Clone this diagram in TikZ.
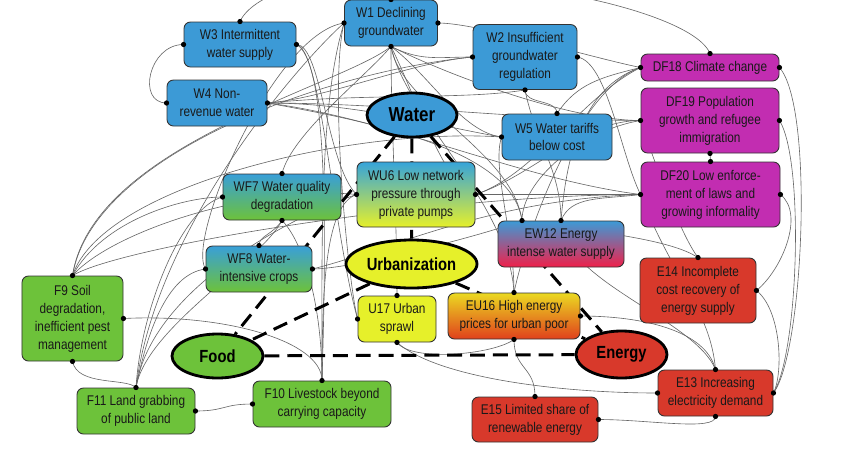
\documentclass[tikz,border=0pt]{standalone}
\usepackage{fontspec}
\setmainfont{Liberation Sans}[FakeStretch=0.84]
\usetikzlibrary{shapes.geometric,backgrounds}
\definecolor{waterblue}{HTML}{3C9AD6}
\definecolor{drivermag}{HTML}{C22DB1}
\definecolor{energyred}{HTML}{D8392B}
\definecolor{foodgreen}{HTML}{6DC23A}
\definecolor{urbanyellow}{HTML}{E6F02A}
\definecolor{hotpink}{HTML}{F0204A}
\definecolor{hotorange}{HTML}{E0401C}
\tikzstyle{box} = [rectangle, rounded corners=1.3mm, draw=black!80, line width=0.5pt, align=center, inner sep=1pt, text=black!90, font=\fontsize{8}{10.2}\selectfont]
\tikzstyle{water-box} = [box, fill=waterblue]
\tikzstyle{driver-box} = [box, fill=drivermag]
\tikzstyle{energy-box} = [box, fill=energyred]
\tikzstyle{food-box} = [box, fill=foodgreen]
\tikzstyle{urban-box} = [box, fill=urbanyellow]
\tikzstyle{sector} = [ellipse, draw=black, line width=1.6pt, inner sep=0pt, font=\fontsize{10}{12}\selectfont\bfseries]
\tikzstyle{link} = [draw=black!60, line width=0.35pt]
\tikzstyle{nexus} = [line width=1.7pt, dash pattern=on 8.5pt off 4.5pt]

\begin{document}
\begin{tikzpicture}[x=0.2mm,y=-0.2mm]
    \useasboundingbox (0,0) rectangle (850,455);
    % water
    \node (W1) [water-box, minimum width=1.86cm, minimum height=0.92cm] at (391,23) {W1 Declining\\groundwater};
    \node (W2) [water-box, minimum width=2.08cm, minimum height=1.30cm] at (525,57) {W2 Insufficient\\groundwater\\regulation};
    \node (W3) [water-box, minimum width=2.24cm, minimum height=0.90cm] at (240,44.5) {W3 Intermittent\\water supply};
    \node (W4) [water-box, minimum width=2.00cm, minimum height=0.92cm] at (217,103) {W4 Non-\\revenue water};
    \node (W5) [water-box, minimum width=2.20cm, minimum height=0.92cm] at (557,137) {W5 Water tariffs\\below cost};
    % drivers
    \node (DF18) [driver-box, minimum width=2.76cm, minimum height=0.54cm] at (710,67.5) {DF18 Climate change};
    \node (DF19) [driver-box, minimum width=2.76cm, minimum height=1.30cm] at (710,120.5) {DF19 Population\\growth and refugee\\immigration};
    \node (DF20) [driver-box, minimum width=2.78cm, minimum height=1.30cm] at (710.5,194.5) {DF20 Low enforce-\\ment of laws and\\growing informality};
    % mixed
    \node (WF7) [box, top color=waterblue!95!cyan, bottom color=foodgreen, minimum width=2.36cm, minimum height=0.92cm] at (282,197) {WF7 Water quality\\degradation};
    \node (WU6) [box, top color=waterblue!90!cyan, bottom color=urbanyellow, minimum width=2.36cm, minimum height=1.30cm] at (416,194.5) {WU6 Low network\\pressure through\\private pumps};
    \node (WF8) [box, top color=waterblue!95!cyan, bottom color=foodgreen, minimum width=2.12cm, minimum height=0.92cm] at (259,269) {WF8 Water-\\intensive crops};
    \node (EW12) [box, top color=waterblue, bottom color=hotpink, minimum width=2.52cm, minimum height=0.92cm] at (561,244) {EW12 Energy\\intense water supply};
    \node (EU16) [box, top color=urbanyellow!80!orange, bottom color=hotorange, minimum width=2.64cm, minimum height=0.92cm] at (514,316) {EU16 High energy\\prices for urban poor};
    % food, urban, energy
    \node (F9) [food-box, minimum width=2.02cm, minimum height=1.70cm] at (72.5,318.5) {F9 Soil\\degradation,\\inefficient pest\\management};
    \node (F11) [food-box, minimum width=2.36cm, minimum height=0.92cm] at (136,411) {F11 Land grabbing\\of public land};
    \node (F10) [food-box, minimum width=2.76cm, minimum height=0.92cm] at (322,404) {F10 Livestock beyond\\carrying capacity};
    \node (U17) [urban-box, minimum width=1.56cm, minimum height=0.92cm] at (397,319) {U17 Urban\\sprawl};
    \node (E14) [energy-box, minimum width=2.32cm, minimum height=1.30cm] at (698,290.5) {E14 Incomplete\\cost recovery of\\energy supply};
    \node (E13) [energy-box, minimum width=2.30cm, minimum height=0.92cm] at (715.5,393) {E13 Increasing\\electricity demand};
    \node (E15) [energy-box, minimum width=2.52cm, minimum height=0.90cm] at (535,419.5) {E15 Limited share of\\renewable energy};
    % sectors
    \node (Water) [sector, fill=waterblue, minimum width=1.80cm, minimum height=0.88cm, font=\fontsize{11.5}{13}\selectfont\bfseries] at (412,115) {Water};
    \node (Urbanization) [sector, fill=urbanyellow, minimum width=2.62cm, minimum height=0.96cm] at (411.5,264) {Urbanization};
    \node (Energy) [sector, fill=energyred, minimum width=1.82cm, minimum height=0.94cm] at (621.5,354.5) {Energy};
    \node (Food) [sector, fill=foodgreen, minimum width=1.82cm, minimum height=0.88cm] at (217.5,356) {Food};

    \coordinate (EW12a) at ([xshift=-7.8mm]EW12.north);

    \begin{pgfonlayer}{background}
    % over the frame
    \draw [link] (W3.north) .. controls +(15,-35) and +(-25,-40) .. (W1.north);
    \draw [link] (DF18.north) .. controls +(-20,-50) and +(40,-40) .. (W1.north);
    % W3, W4
    \draw [link] (W3.west) .. controls +(-35,0) and +(-30,0) .. (W4.west);
    \draw [link] (W3.east) .. controls +(25,5) and +(-25,-90) .. (U17.west);
    \draw [link] (W3.east) .. controls +(30,15) and +(5,-160) .. (F10.north);
    \draw [link] (W3.east) .. controls +(25,0) and +(-30,-30) .. (WU6.west);
    \draw [link] (W4.east) .. controls +(60,-5) and +(-60,5) .. (W2.west);
    \draw [link] (W4.east) .. controls +(90,0) and +(-60,-10) .. (W5.west);
    \draw [link] (W4.east) .. controls +(120,0) and +(-100,0) .. (DF19.west);
    \draw [link] (W4.east) .. controls +(120,15) and +(-120,-15) .. (DF20.west);
    \draw [link] (W4.east) .. controls +(110,20) and +(-10,-70) .. (EW12a);
    % W1
    \draw [link] (W1.east) .. controls +(40,0) and +(-50,-10) .. (DF18.west);
    \draw [link] (W1.south) .. controls +(30,15) and +(-35,0) .. (W2.west);
    \draw [link] (W1.south) .. controls +(40,30) and +(-40,-5) .. (W5.west);
    \draw [link] (W1.south) .. controls +(60,30) and +(-70,0) .. (DF19.west);
    \draw [link] (W1.south) .. controls +(25,50) and +(-30,-5) .. (WU6.east);
    \draw [link] (W1.south) .. controls +(10,60) and +(-10,-70) .. (EW12a);
    \draw [link] (W1.south) .. controls +(15,70) and +(-5,-90) .. (EU16.north);
    \draw [link] (W1.south) .. controls +(0,80) and +(0,-80) .. (U17.north);
    \draw [link] (W1.south) .. controls +(-25,30) and +(10,-40) .. (WF7.north);
    \draw [link] (W1.south) .. controls +(-50,40) and +(20,-130) .. (F9.north);
    \draw [link] (W1.west) .. controls +(-15,60) and +(-10,-40) .. (U17.west);
    \draw [link] (W1.west) .. controls +(-25,80) and +(0,-130) .. (F10.north);
    \draw [link] (W1.west) .. controls +(-45,40) and +(20,-160) .. (F11.north);
    \draw [link] (WF8.west) .. controls +(-20,-30) and +(-70,10) .. (W1.west);
    % W2, W5, drivers
    \draw [link] (W2.south) .. controls +(0,15) and +(0,-15) .. (W5.north);
    \draw [link] (W2.south) .. controls +(-60,10) and +(100,-10) .. (W4.east);
    \draw [link] (W2.east) .. controls +(30,5) and +(-20,-40) .. (DF20.west);
    \draw [link] (W2.south) .. controls +(10,50) and +(0,-50) .. (EW12.north);
    \draw [link] (DF18.west) .. controls +(-40,10) and +(20,-30) .. (W5.north);
    \draw [link] (DF18.west) .. controls +(-60,20) and +(5,-60) .. (EW12.north);
    \draw [link] (DF18.west) .. controls +(-60,30) and +(60,-20) .. (WU6.east);
    \draw [link] (DF19.west) .. controls +(-60,0) and +(60,-20) .. (WU6.east);
    \draw [link] (DF19.west) .. controls +(-60,10) and +(0,-40) .. (EW12a);
    \draw [link] (DF20.west) .. controls +(-60,0) and +(60,0) .. (WU6.east);
    \draw [link] (DF20.west) .. controls +(-40,5) and +(10,-25) .. (EW12.north);
    \draw [link] (DF20.west) .. controls +(-150,5) and +(80,-20) .. (WF8.east);
    \draw [link] (DF19.south) -- (DF20.north);
    % F9, F11, F10
    \draw [link] (F9.north) .. controls +(20,-120) and +(-150,15) .. (W2.west);
    \draw [link] (F9.north) .. controls +(30,-90) and +(-150,-10) .. (W5.west);
    \draw [link] (F9.north) .. controls +(30,-55) and +(-40,0) .. (WF7.west);
    \draw [link] (F9.north) .. controls +(40,-45) and +(-100,-10) .. (WU6.west);
    \draw [link] (F9.north) .. controls +(50,-30) and +(-200,0) .. (DF20.west);
    \draw [link] (F11.north) .. controls +(5,-80) and +(-40,10) .. (WF7.west);
    \draw [link] (F11.north) .. controls +(10,-50) and +(-40,5) .. (WF8.west);
    \draw [link] (F11.north) .. controls +(15,-100) and +(-60,20) .. (WU6.west);
    \draw [link] (F11.north) .. controls +(10,-60) and +(-20,40) .. (WF7.south);
    \draw [link] (F10.north) .. controls +(0,-80) and +(20,20) .. (WF7.south);
    \draw [link] (F10.north) .. controls +(0,-100) and +(-30,10) .. (WU6.west);
    \draw [link] (F9.east) .. controls +(100,-5) and +(0,-40) .. (F10.north);
    \draw [link] (F9.south) .. controls +(5,25) and +(-10,-10) .. (F11.north);
    \draw [link] (F11.east) .. controls +(30,0) and +(-30,0) .. (F10.west);
    \draw [link] (WF8.north) .. controls +(0,-10) and +(-10,15) .. (WF7.south);
    \draw [link] (WF8.east) .. controls +(40,0) and +(-40,15) .. (EW12a);
    % energy side
    \draw [link] (EW12a) .. controls +(60,10) and +(-30,-20) .. (E14.north);
    \draw [link] (EW12.north) .. controls +(0,60) and +(-20,-50) .. (E13.north);
    \draw [link] (DF19.west) .. controls +(20,60) and +(-15,-20) .. (E14.north);
    \draw [link] (DF20.west) .. controls +(30,80) and +(-5,-60) .. (E13.north);
    \draw [link] (EU16.east) .. controls +(60,0) and +(-10,-40) .. (E13.north);
    \draw [link] (EU16.north) .. controls +(0,-60) and +(-10,30) .. (W5.west);
    \draw [link] (EU16.north) .. controls +(15,-70) and +(-60,20) .. (DF18.west);
    \draw [link] (U17.south) .. controls +(40,35) and +(-100,0) .. (E13.west);
    \draw [link] (U17.south) .. controls +(15,20) and +(-20,15) .. (EU16.south);
    \draw [link] (EU16.south) .. controls +(0,30) and +(0,-30) .. (E15.north);
    \draw [link] (E15.east) .. controls +(50,0) and +(0,15) .. (E13.south);
    \draw [link] (DF20.east) .. controls +(25,20) and +(25,-20) .. (E14.east);
    \draw [link] (E14.east) .. controls +(25,20) and +(10,-20) .. (E13.east);
    \draw [link] (DF18.east) .. controls +(35,40) and +(30,-40) .. (E13.east);
    \draw [link] (DF19.east) .. controls +(25,40) and +(25,-40) .. (E13.east);
    % nexus
    \draw [nexus] (Water) -- (Food);
    \draw [nexus] (Water) -- (Urbanization);
    \draw [nexus] (Water) -- (Energy);
    \draw [nexus] (Urbanization) -- (Food);
    \draw [nexus] (Urbanization) -- (Energy);
    \draw [nexus] (Food) -- (Energy);
    \end{pgfonlayer}

    \foreach \p in {W1.north,W1.south,W1.west,W1.east,W2.west,W2.south,W2.east,W3.north,W3.west,W3.east,W4.west,W4.east,W5.north,W5.west,DF18.north,DF18.west,DF18.east,DF19.west,DF19.east,DF19.south,DF20.north,DF20.west,DF20.east,WF7.north,WF7.west,WF7.south,WU6.west,WU6.east,WF8.north,WF8.west,WF8.east,F9.north,F9.east,F9.south,F11.north,F11.east,F10.north,F10.west,U17.north,U17.west,U17.south,EU16.north,EU16.east,EU16.south,EW12.north,EW12a,E14.north,E14.east,E13.north,E13.west,E13.east,E13.south,E15.north,E15.east}
        \fill (\p) circle (1.5pt);
\end{tikzpicture}
\end{document}
